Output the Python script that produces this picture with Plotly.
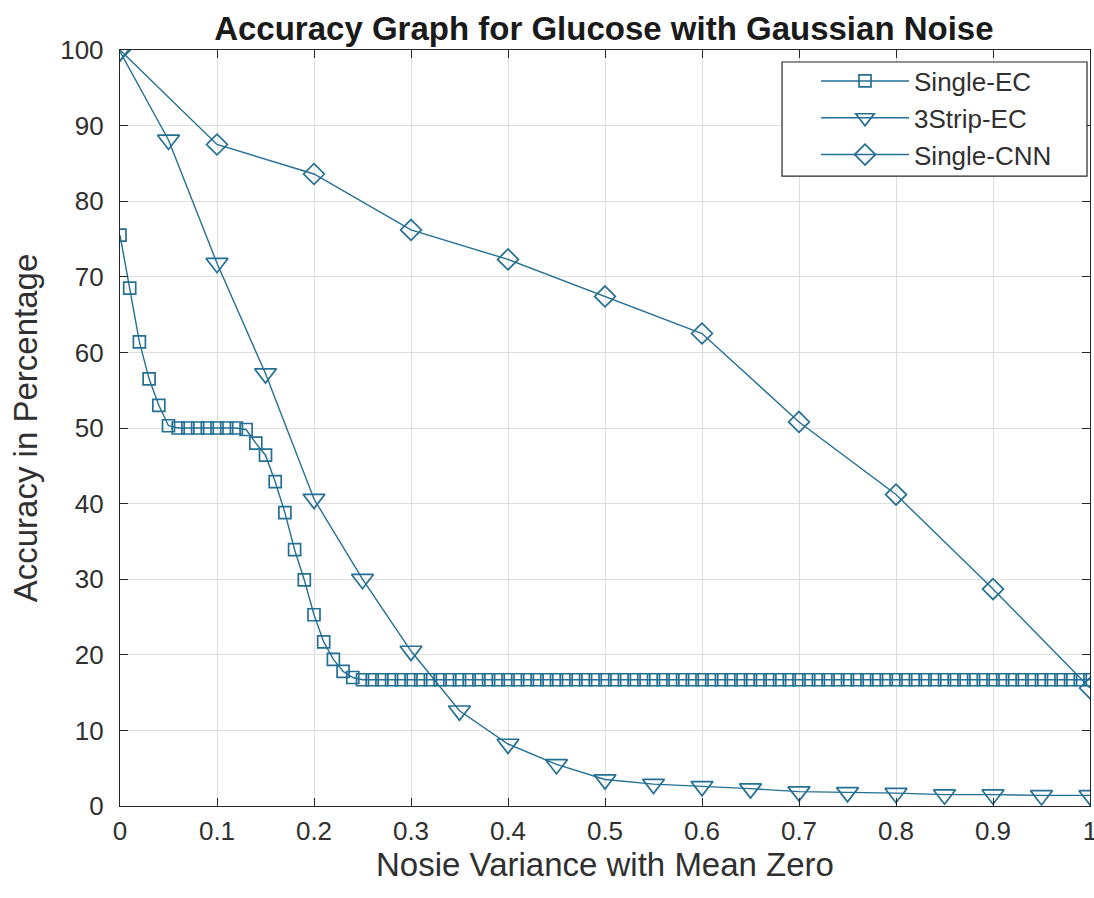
import plotly.graph_objects as go

# Single-EC: x = 0..1 step 0.01
single_ec_x = [round(i * 0.01, 2) for i in range(101)]
single_ec_y = [75.5, 68.5, 61.4, 56.5, 53.0, 50.3, 50.0, 50.0, 50.0, 50.0,
               50.0, 50.0, 50.0, 49.8, 48.0, 46.4, 42.9, 38.8, 33.9, 29.9,
               25.3, 21.7, 19.4, 17.8, 17.0] + [16.7] * 76

# 3Strip-EC: x = 0..1 step 0.05
strip_x = [round(i * 0.05, 2) for i in range(21)]
strip_y = [99.8, 88.1, 71.8, 57.2, 40.6, 30.0, 20.5, 12.6, 8.2, 5.5, 3.5,
           2.9, 2.6, 2.3, 1.9, 1.8, 1.7, 1.5, 1.5, 1.4, 1.4]

# Single-CNN: x = 0..1 step 0.1
cnn_x = [round(i * 0.1, 1) for i in range(11)]
cnn_y = [100.0, 87.5, 83.6, 76.2, 72.3, 67.4, 62.5, 50.8, 41.2, 28.7, 15.6]

x_ticks = [0, 0.1, 0.2, 0.3, 0.4, 0.5, 0.6, 0.7, 0.8, 0.9, 1]
x_tick_labels = ["0", "0.1", "0.2", "0.3", "0.4", "0.5", "0.6", "0.7", "0.8", "0.9", "1"]
y_ticks = [0, 10, 20, 30, 40, 50, 60, 70, 80, 90, 100]

line_color = "#246f94"
font_family = "Liberation Sans, Arial, sans-serif"
text_color = "#303030"

fig = go.Figure()
fig.add_trace(go.Scatter(
    x=single_ec_x, y=single_ec_y, name="Single-EC", mode="lines+markers",
    line=dict(color=line_color, width=1.4),
    marker=dict(symbol="square-open", size=12, color=line_color, line=dict(width=1.7)),
))
fig.add_trace(go.Scatter(
    x=strip_x, y=strip_y, name="3Strip-EC", mode="lines+markers",
    line=dict(color=line_color, width=1.4),
    marker=dict(symbol="triangle-down-open", size=19, color=line_color, line=dict(width=1.7)),
))
fig.add_trace(go.Scatter(
    x=cnn_x, y=cnn_y, name="Single-CNN", mode="lines+markers",
    line=dict(color=line_color, width=1.4),
    marker=dict(symbol="diamond-open", size=16, color=line_color, line=dict(width=1.7)),
))

axis_common = dict(
    showline=True, linecolor="#262626", linewidth=1.4, mirror="ticks",
    ticks="inside", ticklen=8, tickcolor="#262626", tickwidth=1,
    showgrid=True, gridcolor="#dedede", gridwidth=1,
    zeroline=False, ticklabeloverflow="allow", automargin=False,
    tickfont=dict(family=font_family, size=26, color=text_color),
)

fig.update_layout(
    width=1094, height=898,
    margin=dict(l=120, r=4, t=50, b=92),
    paper_bgcolor="white", plot_bgcolor="white",
    font=dict(family=font_family, color=text_color),
    title=dict(
        text="<b>Accuracy Graph for Glucose with Gaussian Noise</b>",
        x=0.552, xanchor="center", y=1 - 28 / 898, yanchor="middle",
        font=dict(family=font_family, size=33, color="#1a1a1a"),
    ),
    xaxis=dict(
        range=[0, 1], tickvals=x_ticks, ticktext=x_tick_labels,
        title=dict(text="Nosie Variance with Mean Zero",
                   font=dict(family=font_family, size=33, color=text_color), standoff=4),
        ticklabelstandoff=2,
        **axis_common,
    ),
    yaxis=dict(
        range=[0, 100], tickvals=y_ticks,
        title=dict(text="Accuracy in Percentage",
                   font=dict(family=font_family, size=33, color=text_color), standoff=12),
        ticklabelstandoff=10,
        **axis_common,
    ),
    legend=dict(
        x=0.966, xanchor="right", y=0.99, yanchor="top",
        bgcolor="rgba(0,0,0,0)", borderwidth=0,
        font=dict(family=font_family, size=26, color=text_color),
        itemwidth=88, tracegroupgap=0,
    ),
    showlegend=True,
    shapes=[dict(
        type="rect", xref="paper", yref="paper",
        x0=0.6825, x1=0.9969, y0=0.8333, y1=0.9841,
        line=dict(color="#262626", width=1.2), fillcolor="white", layer="above",
    )],
)

fig.write_html("out.html")
